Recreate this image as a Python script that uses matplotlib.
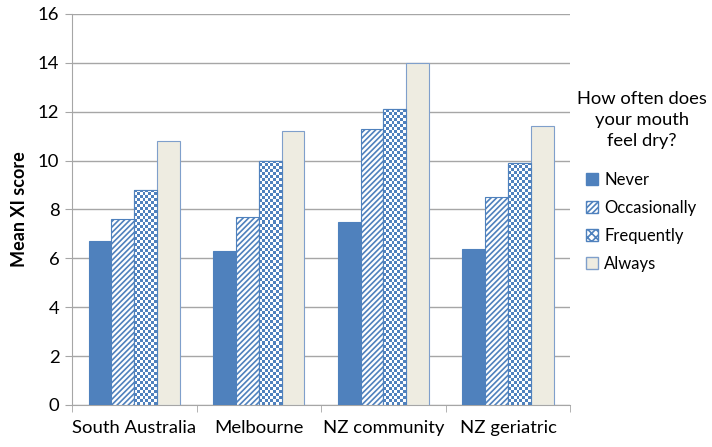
import numpy as np
import matplotlib
matplotlib.use('Agg')
import matplotlib.pyplot as plt
from matplotlib.colors import ListedColormap
from matplotlib.patches import Patch

plt.rcParams['font.family'] = ['Lato', 'DejaVu Sans']
plt.rcParams['hatch.linewidth'] = 1.2

# 各组平均 XI 分数
groups = ['South Australia', 'Melbourne', 'NZ community', 'NZ geriatric']
never = [6.7, 6.3, 7.5, 6.4]
occasionally = [7.6, 7.7, 11.3, 8.5]
frequently = [8.8, 10.0, 12.1, 9.9]
always = [10.8, 11.2, 14.0, 11.4]
series_names = ['Never', 'Occasionally', 'Frequently', 'Always']
legend_title = 'How often does\nyour mouth\nfeel dry?'

blue = '#4F81BD'
edge = '#7F9FCB'
cream = '#EEECE1'
grid_c = '#A6A6A6'

fig = plt.figure(figsize=(7.12, 4.47), dpi=100)
ax = fig.add_axes([0.101, 0.094, 0.700, 0.875])

x = np.arange(len(groups))
w = 0.183
offs = (np.arange(4) - 1.5) * w

b_never = ax.bar(x + offs[0], never, w, color=blue, edgecolor=blue, lw=0.8, zorder=3)
b_occ = ax.bar(x + offs[1], occasionally, w, color='white', edgecolor=blue,
               hatch='//////', lw=0.8, zorder=3)
b_freq = ax.bar(x + offs[2], frequently, w, color='white', edgecolor=blue, lw=0.8, zorder=3)
b_alw = ax.bar(x + offs[3], always, w, color=cream, edgecolor=edge, lw=0.8, zorder=3)

ax.set_xlim(-0.5, 3.5)
ax.set_ylim(0, 16)

# 棋盘格填充：按像素大小生成，并裁剪到每根柱子
fig.canvas.draw()
px_per_x = ax.transData.transform((1, 0))[0] - ax.transData.transform((0, 0))[0]
px_per_y = ax.transData.transform((0, 1))[1] - ax.transData.transform((0, 0))[1]
cell = 3.0
cmap = ListedColormap(['white', blue])
for bar in b_freq:
    x0, h = bar.get_x(), bar.get_height()
    nx = max(1, int(round(w * px_per_x / cell)))
    ny = max(1, int(round(h * px_per_y / cell)))
    board = (np.add.outer(np.arange(ny), np.arange(nx)) % 2).astype(float)
    im = ax.imshow(board, extent=(x0, x0 + w, 0, h), cmap=cmap, vmin=0, vmax=1,
                   interpolation='nearest', aspect='auto', origin='lower', zorder=3.1)
    im.set_clip_path(bar)
    ax.bar(x0 + w / 2, h, w, color='none', edgecolor=blue, lw=0.8, zorder=3.2)

ax.set_xlim(-0.5, 3.5)
ax.set_ylim(0, 16)
ax.set_yticks(np.arange(0, 17, 2))
ax.yaxis.grid(True, color=grid_c, lw=1.0, zorder=0)
ax.set_axisbelow(True)

ax.set_xticks(x)
ax.set_xticklabels(groups, fontsize=13.3)
ax.tick_params(axis='x', length=0, pad=11)
ax.set_xticks(np.arange(-0.5, 4, 1), minor=True)
ax.tick_params(axis='x', which='minor', length=5, color=grid_c, direction='out')
ax.tick_params(axis='y', length=5, color=grid_c, labelsize=13.3, pad=4)

for s in ['top', 'right']:
    ax.spines[s].set_visible(False)
for s in ['left', 'bottom']:
    ax.spines[s].set_color(grid_c)

ax.set_ylabel('Mean XI score', fontsize=13, fontweight='bold', labelpad=7)

# 图例标题单独居中放置
fig.text(642 / 712, 1 - 120 / 447, legend_title, ha='center', va='center',
         fontsize=13.2, linespacing=1.35)

handles = [
    Patch(facecolor=blue, edgecolor=blue),
    Patch(facecolor='white', edgecolor=blue, hatch='//////'),
    Patch(facecolor='white', edgecolor=blue, hatch='xxxx'),
    Patch(facecolor=cream, edgecolor=edge),
]
leg = fig.legend(handles, series_names, loc='center left',
                 bbox_to_anchor=(586 / 712, 1 - 222 / 447), frameon=False, fontsize=12,
                 handlelength=0.7, handleheight=0.7, borderpad=0,
                 handletextpad=0.4, labelspacing=0.72, borderaxespad=0)

fig.savefig('out.png', dpi=100)
